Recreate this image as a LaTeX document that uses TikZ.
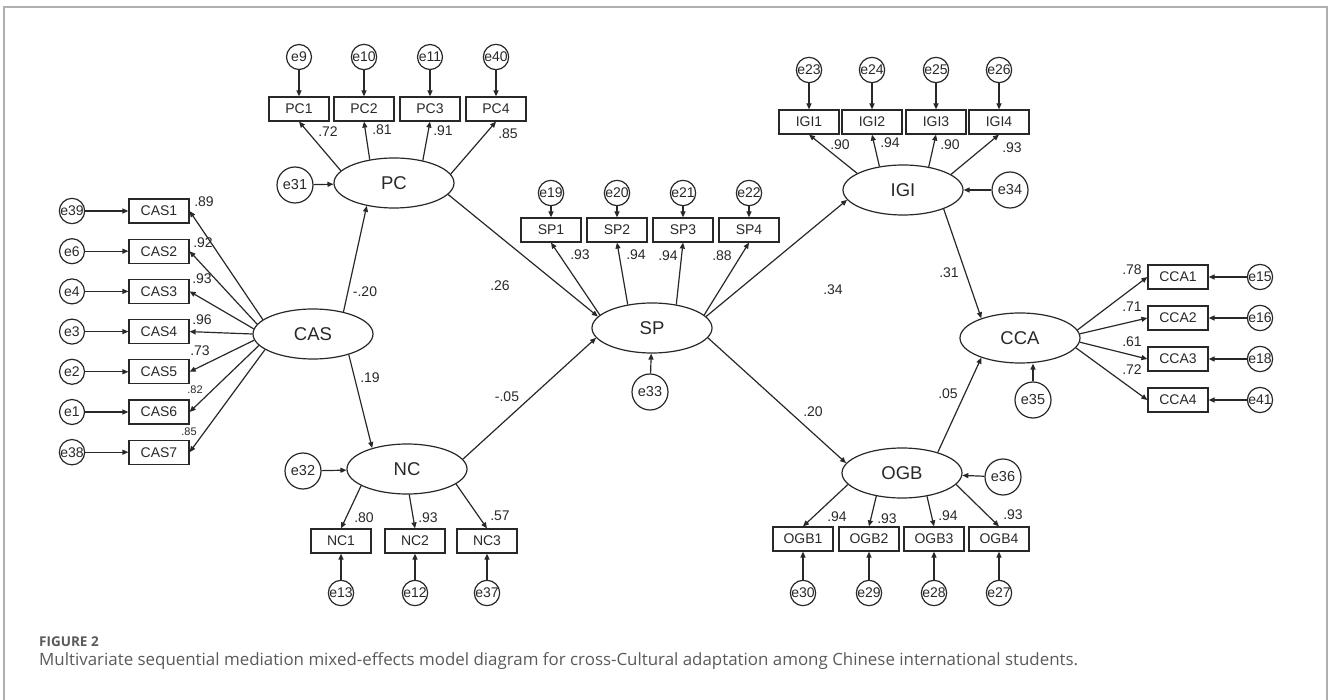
\documentclass[tikz,border=0pt]{standalone}
\usepackage{fontspec}
\setmainfont{Liberation Sans}
\newfontfamily\capfont{Open Sans}
\usetikzlibrary{arrows.meta,shapes.geometric}
\definecolor{inkgray}{RGB}{40,40,40}
\definecolor{capgray}{RGB}{90,90,90}
\definecolor{framegray}{RGB}{175,175,175}

\begin{document}
\begin{tikzpicture}[x=1pt, y=-1pt,
  obs/.style={draw=inkgray, line width=1.2pt, minimum width=60pt, minimum height=24pt, inner sep=0pt, text=inkgray, font=\fontsize{14}{14}\selectfont},
  lat/.style={draw=inkgray, ellipse, line width=1.2pt, minimum width=120pt, minimum height=50pt, inner sep=0pt, text=inkgray, font=\fontsize{18.5}{18.5}\selectfont},
  err/.style={draw=inkgray, circle, line width=1.2pt, minimum size=25pt, inner sep=0pt, text=inkgray, font=\fontsize{14}{14}\selectfont},
  res/.style={err, minimum size=36pt, font=\fontsize{14.5}{14.5}\selectfont},
  arr/.style={draw=inkgray, line width=1.2pt, -{Triangle[length=6pt,width=5pt]}},
  coef/.style={text=inkgray, inner sep=0pt, font=\fontsize{14}{14}\selectfont},
]
\useasboundingbox (0,0) rectangle (1328,700);
% Frame
\draw[framegray, line width=2pt] (4,700) -- (4,7) -- (1327,7) -- (1327,700);

% CAS
\node[lat] (CAS) at (313,334) {CAS};
\foreach \i/\en/\a/\v/\lx/\ly/\fs in {1/39/164/.89/204/202/14, 2/6/170/.92/203/243/14, 3/4/175/.93/202/279/14, 4/3/180/.96/202/320/14, 5/2/186/.73/200/351/14, 6/1/192/.82/195/390/11, 7/38/198/.85/189/432/11} {
  \node[obs] (cas\i) at (159,170.8+40.2*\i) {CAS\i};
  \node[err] (e\en) at (72,170.8+40.2*\i) {e\en};
  \draw[arr] (e\en) -- (cas\i);
  \draw[arr] (CAS.\a) -- (cas\i.east);
  \node[coef, font=\fontsize{\fs}{\fs}\selectfont] (lcas\i) at (\lx,\ly) {\v};
}

% PC
\node[lat] (PC) at (394,183) {PC};
\node[res] (e31) at (295,185) {e31};
\draw[arr] (e31) -- (PC);
\foreach \i/\en/\x/\a/\v/\lx/\ly in {1/9/299/167/.72/328/132, 2/10/364/136/.81/382/130, 3/11/430/38/.91/443/131, 4/40/496/9/.85/508/134} {
  \node[obs] (pc\i) at (\x,109) {PC\i};
  \node[err] (e\en) at (\x,57) {e\en};
  \draw[arr] (e\en) -- (pc\i);
  \draw[arr] (PC.\a) -- (pc\i.south);
  \node[coef] (lpc\i) at (\lx,\ly) {\v};
}

% NC
\node[lat] (NC) at (407,469) {NC};
\node[res] (e32) at (303,471) {e32};
\draw[arr] (e32) -- (NC);
\foreach \i/\en/\x/\a/\v/\lx/\ly in {1/13/341/200/.80/364/518, 2/12/415/275/.93/428/518, 3/37/487/343/.57/500/516} {
  \node[obs] (nc\i) at (\x,541) {NC\i};
  \node[err] (e\en) at (\x,593) {e\en};
  \draw[arr] (e\en) -- (nc\i);
  \draw[arr] (NC.\a) -- (nc\i.north);
  \node[coef] (lnc\i) at (\lx,\ly) {\v};
}

% SP
\node[lat] (SP) at (652,328) {SP};
\node[res] (e33) at (650,392) {e33};
\draw[arr] (e33) -- (SP);
\foreach \i/\en/\x/\a/\v/\lx/\ly in {1/19/551/166/.93/580/255, 2/20/617/136/.94/636/255, 3/21/683/44/.94/668/256, 4/22/749/14/.88/722/256} {
  \node[obs] (sp\i) at (\x,230) {SP\i};
  \node[err] (e\en) at (\x,193) {e\en};
  \draw[arr] (e\en) -- (sp\i);
  \draw[arr] (SP.\a) -- (sp\i.south);
  \node[coef] (lsp\i) at (\lx,\ly) {\v};
}

% IGI
\node[lat] (IGI) at (903,190) {IGI};
\node[res] (e34) at (1010,190) {e34};
\draw[arr] (e34) -- (IGI);
\foreach \i/\en/\x/\a/\v/\lx/\ly in {1/23/809/160/.90/840/145, 2/24/872/135/.94/890/143, 3/25/936/42/.90/950/145, 4/26/999/18/.93/1012/148} {
  \node[obs] (igi\i) at (\x,122) {IGI\i};
  \node[err] (e\en) at (\x,70) {e\en};
  \draw[arr] (e\en) -- (igi\i);
  \draw[arr] (IGI.\a) -- (igi\i.south);
  \node[coef] (ligi\i) at (\lx,\ly) {\v};
}

% OGB
\node[lat] (OGB) at (902,473) {OGB};
\node[res] (e36) at (1003,477) {e36};
\draw[arr] (e36) -- (OGB);
\foreach \i/\en/\x/\a/\v/\lx/\ly in {1/30/803/192/.94/837/517, 2/29/869/222/.93/887/519, 3/28/934/317/.94/948/516, 4/27/999/348/.93/1013/515} {
  \node[obs] (ogb\i) at (\x,539) {OGB\i};
  \node[err] (e\en) at (\x,593) {e\en};
  \draw[arr] (e\en) -- (ogb\i);
  \draw[arr] (OGB.\a) -- (ogb\i.north);
  \node[coef] (logb\i) at (\lx,\ly) {\v};
}

% CCA
\node[lat] (CCA) at (1020,338) {CCA};
\node[res] (e35) at (1033,400) {e35};
\draw[arr] (e35) -- (e35 |- CCA.south);
\foreach \i/\en/\y/\a/\v/\ly in {1/15/277/8/.78/270, 2/16/318/4/.71/307, 3/18/359/356/.61/342, 4/41/400/350/.72/370} {
  \node[obs] (cca\i) at (1178,\y) {CCA\i};
  \node[err] (e\en) at (1260,\y) {e\en};
  \draw[arr] (e\en) -- (cca\i);
  \draw[arr] (CCA.\a) -- (cca\i.west);
  \node[coef] (lcca\i) at (1132,\ly) {\v};
}

% Structural paths
\draw[arr] (CAS.36) -- (PC.220);
\node[coef] (bcaspc) at (365,292) {-.20};
\draw[arr] (CAS.330) -- (NC.149);
\node[coef] (bcasnc) at (370,378) {.19};
\draw[arr] (PC.348) -- (SP.168);
\node[coef] (bpcsp) at (500,286) {.26};
\draw[arr] (NC.10) -- (SP.190);
\node[coef] (bncsp) at (507,397) {-.05};
\draw[arr] (SP.12) -- (IGI.190);
\node[coef] (bspigi) at (833,290) {.34};
\draw[arr] (SP.350) -- (OGB.170);
\node[coef] (bspogb) at (813,412) {.20};
\draw[arr] (IGI.335) -- (CCA.153);
\node[coef] (bigicca) at (949,273) {.31};
\draw[arr] (OGB.30) -- (CCA.207);
\node[coef] (bogbcca) at (948,394) {.05};

% Caption
\node[anchor=base west, inner sep=0pt, text=capgray, font=\capfont\bfseries\fontsize{13.5}{13.5}\selectfont] (figno) at (39,646) {FIGURE 2};
\node[anchor=base west, inner sep=0pt, text=capgray, font=\capfont\fontsize{16.9}{16.9}\selectfont] (caption) at (39,665) {Multivariate sequential mediation mixed-effects model diagram for cross-Cultural adaptation among Chinese international students.};
\end{tikzpicture}
\end{document}
